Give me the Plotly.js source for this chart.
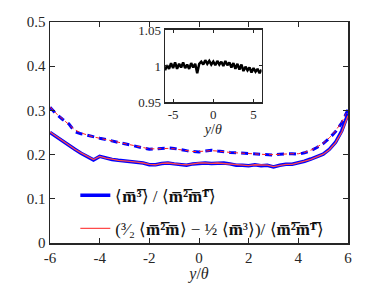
<!DOCTYPE html>
<html>
<head>
<meta charset="utf-8">
<script src="https://cdn.plot.ly/plotly-3.0.1.min.js"></script>
<style>html,body{margin:0;padding:0;background:#fff;}#chart{width:384px;height:288px;}</style>
</head>
<body>
<div id="chart"></div>
<script>
const yTheta = [-6,-5.75,-5.5,-5.25,-5,-4.75,-4.5,-4.25,-4,-3.75,-3.5,-3.25,-3,-2.75,-2.5,-2.25,-2,-1.75,-1.5,-1.25,-1,-0.75,-0.5,-0.25,0,0.25,0.5,0.75,1,1.25,1.5,1.75,2,2.25,2.5,2.75,3,3.25,3.5,3.75,4,4.25,4.5,4.75,5,5.25,5.5,5.75,6];

const blueSolid = [0.250,0.240,0.230,0.220,0.212,0.203,0.196,0.188,0.196,0.192,0.189,0.187,0.185,0.185,0.183,0.181,0.177,0.177,0.180,0.181,0.179,0.177,0.176,0.179,0.181,0.181,0.180,0.181,0.181,0.179,0.176,0.176,0.175,0.177,0.175,0.176,0.172,0.176,0.178,0.178,0.181,0.185,0.190,0.195,0.201,0.212,0.228,0.254,0.292];
const redSolid  = [0.251,0.241,0.231,0.221,0.212,0.204,0.196,0.189,0.196,0.192,0.190,0.187,0.186,0.185,0.183,0.181,0.178,0.177,0.180,0.181,0.179,0.178,0.177,0.179,0.181,0.181,0.180,0.181,0.180,0.179,0.177,0.176,0.175,0.177,0.176,0.176,0.173,0.176,0.178,0.178,0.181,0.185,0.189,0.195,0.201,0.211,0.227,0.251,0.288];
const blueDash  = [0.307,0.292,0.280,0.270,0.252,0.247,0.244,0.240,0.237,0.234,0.231,0.228,0.224,0.222,0.219,0.216,0.212,0.213,0.214,0.215,0.214,0.211,0.209,0.207,0.206,0.208,0.210,0.208,0.206,0.205,0.204,0.203,0.202,0.202,0.201,0.200,0.199,0.201,0.202,0.202,0.201,0.204,0.209,0.216,0.225,0.237,0.252,0.272,0.302];
const redDash   = [0.308,0.293,0.281,0.268,0.256,0.249,0.244,0.240,0.237,0.234,0.231,0.228,0.225,0.222,0.219,0.216,0.213,0.213,0.214,0.214,0.213,0.211,0.209,0.207,0.207,0.208,0.209,0.208,0.206,0.205,0.204,0.203,0.202,0.202,0.201,0.200,0.200,0.201,0.201,0.202,0.202,0.205,0.210,0.217,0.226,0.238,0.254,0.274,0.300];

const insetRatio = [0.994,1.001,0.996,1.004,0.997,1.005,0.996,1.003,0.998,1.005,0.997,1.002,0.996,1.004,0.998,1.003,0.990,1.003,1.006,1.002,1.008,1.003,1.007,1.002,1.006,1.001,1.007,1.002,1.006,1.000,1.007,1.001,1.005,0.998,1.004,0.996,1.003,0.995,1.002,0.993,0.999,0.994,0.998,0.991,0.997,0.992,0.996,0.990,0.995];

const mainTicksX = [-6,-4,-2,0,2,4,6];
const mainTicksY = [0,0.1,0.2,0.3,0.4,0.5];
const insetTicksX = [-5,0,5];
const insetTicksY = [0.95,1,1.05];
const insetTickText = ['0.95','1','1.05'];

const legendA = '⟨<b>m̅³̅</b>⟩ / ⟨<b>m̅²̅m̅ᵀ̅</b>⟩';
const legendB = '(³⁄₂ ⟨<b>m̅²̅m̅</b>⟩ − ½ ⟨<b>m̅</b>³⟩)/ ⟨<b>m̅²̅m̅ᵀ̅</b>⟩';

const FONT = 'Liberation Serif';
const AX = '#262626';

const traces = [
  {x:yTheta, y:blueDash, type:'scatter', mode:'lines', line:{color:'#0000ff', width:3, dash:'7px,5px'}, showlegend:false},
  {x:yTheta, y:redDash, type:'scatter', mode:'lines', line:{color:'#ff2020', width:1, dash:'4px,3px'}, showlegend:false},
  {x:yTheta, y:blueSolid, type:'scatter', mode:'lines', name:legendA, legendgroup:'a', line:{color:'#0000ff', width:3.5}},
  {x:yTheta, y:redSolid, type:'scatter', mode:'lines', name:legendB, legendgroup:'b', line:{color:'#ff4a4a', width:1.3}},
  {x:yTheta, y:insetRatio, type:'scatter', mode:'lines', xaxis:'x2', yaxis:'y2', line:{color:'#000000', width:2.5}, showlegend:false}
];

const layout = {
  width:384, height:288,
  margin:{l:50, r:36, t:22, b:45},
  paper_bgcolor:'#fff', plot_bgcolor:'#fff',
  font:{family:FONT, size:15, color:AX},
  showlegend:true,
  legend:{x:0.085, y:0.295, xanchor:'left', yanchor:'top', bgcolor:'rgba(0,0,0,0)', font:{size:17, family:FONT, color:'#111'}, tracegroupgap:8, traceorder:'grouped'},
  xaxis:{range:[-6,6], tickvals:mainTicksX, ticktext:mainTicksX.map(String), showline:true, mirror:'ticks', linecolor:AX, linewidth:1.5, ticks:'inside', ticklen:5, tickcolor:AX, showgrid:false, zeroline:false, title:{text:'<i>y</i>/<i>θ</i>', font:{size:16}, standoff:2}},
  yaxis:{range:[0,0.5], tickvals:mainTicksY, ticktext:mainTicksY.map(String), showline:true, mirror:'ticks', linecolor:AX, linewidth:1.5, ticks:'inside', ticklen:5, tickcolor:AX, showgrid:false, zeroline:false},
  xaxis2:{domain:[0.386,0.71], anchor:'y2', range:[-6,6], tickvals:insetTicksX, ticktext:insetTicksX.map(String), showline:true, mirror:'ticks', linecolor:AX, linewidth:1.5, ticks:'inside', ticklen:3, tickcolor:AX, showgrid:false, zeroline:false, tickfont:{size:13}, title:{text:'<i>y</i>/<i>θ</i>', font:{size:14}, standoff:2}},
  yaxis2:{domain:[0.638,0.964], anchor:'x2', range:[0.95,1.05], tickvals:insetTicksY, ticktext:insetTickText, showline:true, mirror:'ticks', linecolor:AX, linewidth:1.5, ticks:'inside', ticklen:3, tickcolor:AX, showgrid:false, zeroline:false, tickfont:{size:13}}
};

Plotly.newPlot('chart', traces, layout, {displayModeBar:false, staticPlot:true});
</script>
</body>
</html>
